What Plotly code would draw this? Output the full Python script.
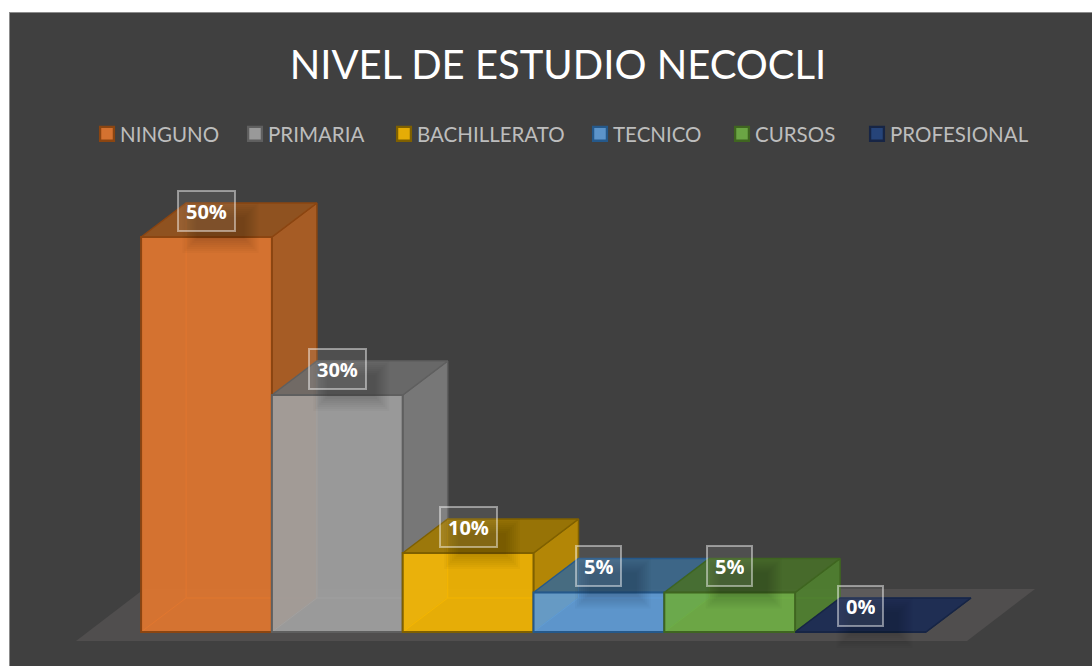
import plotly.graph_objects as go

categories = ['NINGUNO', 'PRIMARIA', 'BACHILLERATO', 'TECNICO', 'CURSOS', 'PROFESIONAL']
values = [50, 30, 10, 5, 5, 0]

# colores de cada cara
face_colors = ['#D37230', '#999999', '#E5AB05', '#5B94C9', '#6BA544', '#264478']
side_colors = ['#A65B25', '#777777', '#B38600', '#47749C', '#4E7B30', '#1D2D52']
top_colors = ['#8F5220', '#686868', '#967305', '#3D6587', '#466A2B', '#1D2D52']
edge_colors = ['#8B4511', '#5F5F5F', '#7F6000', '#25598B', '#3F6520', '#172545']

legend_text_px = [120, 268, 417, 613, 755, 890]

# escala de la figura en pixeles
WIDTH, HEIGHT = 1092, 666
LEFT, TOP = 10, 13
CAT_PX, PCT_PX = 130.8, 7.9
X0_PX, Y0_PX = 206.5, 632

# profundidad de las barras y del piso, en unidades de los ejes
DX, DY = 45 / CAT_PX, 34 / PCT_PX
FLOOR_L, FLOOR_R, FLOOR_Y = (76 - X0_PX) / CAT_PX, (967 - X0_PX) / CAT_PX, -9 / PCT_PX
FLOOR_DX, FLOOR_DY = 68 / CAT_PX, 52 / PCT_PX

x_range = [(LEFT - X0_PX) / CAT_PX, (WIDTH - X0_PX) / CAT_PX]
y_range = [(Y0_PX - HEIGHT) / PCT_PX, (Y0_PX - TOP) / PCT_PX]


def glass(color, alpha=0.91):
    """Color con transparencia que sobre el fondo oscuro da el color pedido"""
    rgb = [int(color[i:i + 2], 16) for i in (1, 3, 5)]
    rgb = [max(0, min(255, round((c - (1 - alpha) * 64) / alpha))) for c in rgb]
    return f'rgba({rgb[0]},{rgb[1]},{rgb[2]},{alpha})'


def polygon(xs, ys, fill, line, width=1.5):
    return go.Scatter(
        x=xs + xs[:1], y=ys + ys[:1], mode='lines', fill='toself', fillcolor=fill,
        line=dict(color=line, width=width), showlegend=False, hoverinfo='skip'
    )


fig = go.Figure()

# piso
fig.add_trace(polygon(
    [FLOOR_L, FLOOR_R, FLOOR_R + FLOOR_DX, FLOOR_L + FLOOR_DX],
    [FLOOR_Y, FLOOR_Y, FLOOR_Y + FLOOR_DY, FLOOR_Y + FLOOR_DY],
    '#504E4E', '#504E4E', 0
))

# caras traseras, lateral y superior de cada barra
for i, v in enumerate(values):
    l, r = i - 0.5, i + 0.5
    fig.add_trace(go.Scatter(
        x=[l + DX, l + DX, None, l, l + DX, r + DX],
        y=[v + DY, DY, None, 0, DY, DY],
        mode='lines', line=dict(color=face_colors[i], width=1),
        showlegend=False, hoverinfo='skip'
    ))
    fig.add_trace(polygon(
        [r, r + DX, r + DX, r], [0, DY, v + DY, v],
        glass(side_colors[i]), edge_colors[i]
    ))
    fig.add_trace(polygon(
        [l, r, r + DX, l + DX], [v, v, v + DY, v + DY],
        glass(top_colors[i]), edge_colors[i]
    ))

# caras frontales, en un eje superpuesto para que queden encima de las demas
for i, (name, v) in enumerate(zip(categories, values)):
    fig.add_trace(go.Bar(
        x=[i], y=[v], width=1, name=name, xaxis='x2', yaxis='y2',
        marker=dict(color=glass(face_colors[i]), line=dict(color=edge_colors[i], width=2)),
        legend='legend' if i == 0 else f'legend{i + 1}'
    ))

# etiquetas de datos con su sombra difusa
for i, v in enumerate(values):
    for inset in range(0, 15, 2):
        fig.add_shape(
            type='rect', layer='above', line_width=0, fillcolor='rgba(0,0,0,0.025)',
            x0=i + (inset - 24) / CAT_PX, x1=i + (52 - inset) / CAT_PX,
            y0=v - (16 - inset) / PCT_PX, y1=v + (34 - inset) / PCT_PX
        )
    fig.add_annotation(
        x=i, y=v + 26.5 / PCT_PX, text=f'{v}%', showarrow=False,
        font=dict(family='Open Sans', size=20, color='white', weight='bold'),
        bgcolor='rgba(255,255,255,0.08)', bordercolor='rgba(255,255,255,0.45)',
        borderwidth=2, borderpad=7, height=24
    )

fig.update_layout(
    width=WIDTH,
    height=HEIGHT,
    margin=dict(l=LEFT, r=0, t=TOP, b=0, autoexpand=False),
    paper_bgcolor='white',
    plot_bgcolor='#404040',
    barmode='overlay',
    font=dict(family='Lato'),
    title=dict(
        text='NIVEL DE ESTUDIO NECOCLI', x=558 / WIDTH, xanchor='center', xref='container',
        y=1 - 65 / HEIGHT, yanchor='middle', font=dict(family='Lato', size=40, color='white')
    ),
    xaxis=dict(
        range=x_range, side='top', showline=True, linecolor='#8C8C8C', linewidth=1,
        showgrid=False, zeroline=False, showticklabels=False, ticks=''
    ),
    yaxis=dict(
        range=y_range, showline=True, linecolor='#8C8C8C', linewidth=1,
        showgrid=False, zeroline=False, showticklabels=False, ticks=''
    ),
    xaxis2=dict(range=x_range, overlaying='x', visible=False),
    yaxis2=dict(range=y_range, overlaying='y', visible=False),
)

# una leyenda por serie para ubicar cada entrada como en el original
for i, px in enumerate(legend_text_px):
    key = 'legend' if i == 0 else f'legend{i + 1}'
    fig.update_layout({key: dict(
        x=(px - 40) / WIDTH, xref='container', xanchor='left',
        y=1 - 134 / HEIGHT, yref='container', yanchor='middle',
        bgcolor='rgba(0,0,0,0)', borderwidth=0,
        font=dict(family='Lato', size=20.5, color='#BDBDBD')
    )})

# sin margen de pagina; cuadros de la leyenda mas grandes y junto al texto
post_script = """
var style = document.createElement('style');
style.textContent = 'body { margin: 0; overflow: hidden; } '
    + '.legendpoints path { transform: translate(27px, 0) scale(1.15); }';
document.head.appendChild(style);
"""

fig.write_html("out.html", post_script=post_script, config=dict(displayModeBar=False))
